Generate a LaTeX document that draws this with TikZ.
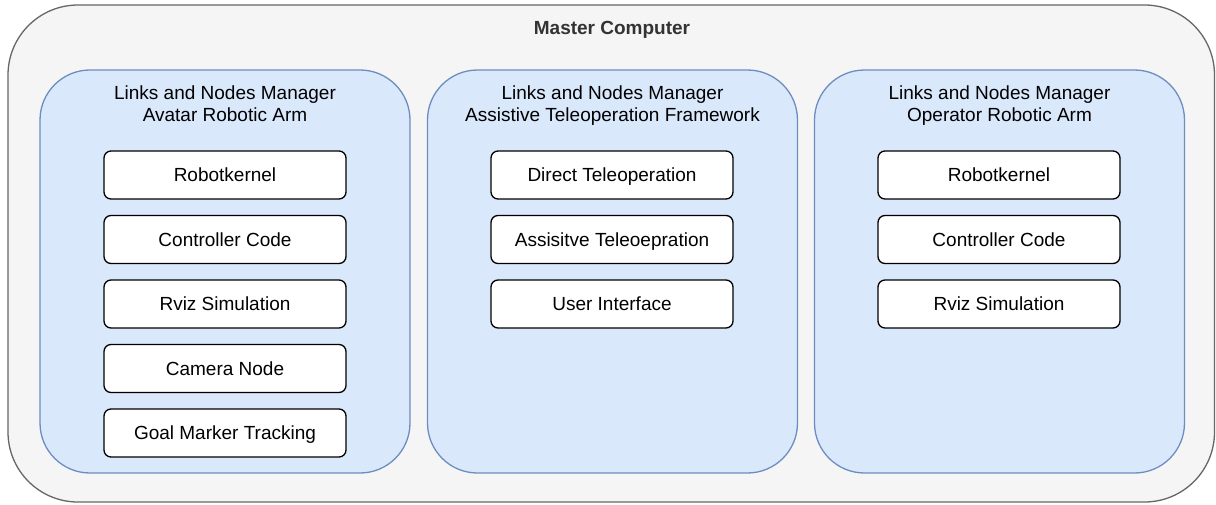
\documentclass[tikz,border=0pt]{standalone}
\usepackage{fontspec}
\setmainfont{Liberation Sans}
\definecolor{outerfill}{HTML}{F5F5F5}
\definecolor{outerdraw}{HTML}{666666}
\definecolor{outertext}{HTML}{333333}
\definecolor{panelfill}{HTML}{DAE8FC}
\definecolor{paneldraw}{HTML}{6C8EBF}
\tikzset{
  outerbox/.style={draw=outerdraw, fill=outerfill, line width=1.3pt, rounded corners=70pt},
  panelbox/.style={draw=paneldraw, fill=panelfill, line width=1.3pt, rounded corners=50pt, minimum width=370pt, minimum height=403pt, inner sep=0pt},
  paneltitle/.style={align=center, font=\fontsize{19}{22}\selectfont, text=black, inner sep=0pt, anchor=base},
  itembox/.style={draw=black, fill=white, line width=1.3pt, rounded corners=7pt, minimum width=242pt, minimum height=48pt, inner sep=0pt, text height=16pt, text depth=3pt, font=\fontsize{19}{23}\selectfont, text=black},
}
\begin{document}
\begin{tikzpicture}[x=1pt, y=-1pt]
\useasboundingbox (0,0) rectangle (1216,504);
\draw[outerbox] (8,5) rectangle (1214.5,502);
\node[font=\fontsize{19}{23}\selectfont\bfseries, text=outertext, inner sep=0pt, anchor=base] (master) at (612,34) {Master Computer};

% panels
\node[panelbox] (pA) at (225,271.5) {};
\node[panelbox] (pB) at (612.5,271.5) {};
\node[panelbox] (pC) at (999.5,271.5) {};

\node[paneltitle] (tA) at (225,121.5) {Links and Nodes Manager\\Avatar Robotic Arm};
\node[paneltitle] (tB) at (612.5,121.5) {Links and Nodes Manager\\Assistive Teleoperation Framework};
\node[paneltitle] (tC) at (999.5,121.5) {Links and Nodes Manager\\Operator Robotic Arm};

% left items
\node[itembox] (a1) at (225,175) {Robotkernel};
\node[itembox] (a2) at (225,239.5) {Controller Code};
\node[itembox] (a3) at (225,304) {Rviz Simulation};
\node[itembox] (a4) at (225,368.5) {Camera Node};
\node[itembox] (a5) at (225,433) {Goal Marker Tracking};

% middle items
\node[itembox] (b1) at (612,175) {Direct Teleoperation};
\node[itembox] (b2) at (612,239.5) {Assisitve Teleoepration};
\node[itembox] (b3) at (612,304) {User Interface};

% right items
\node[itembox] (c1) at (999,175) {Robotkernel};
\node[itembox] (c2) at (999,239.5) {Controller Code};
\node[itembox] (c3) at (999,304) {Rviz Simulation};
\end{tikzpicture}
\end{document}
